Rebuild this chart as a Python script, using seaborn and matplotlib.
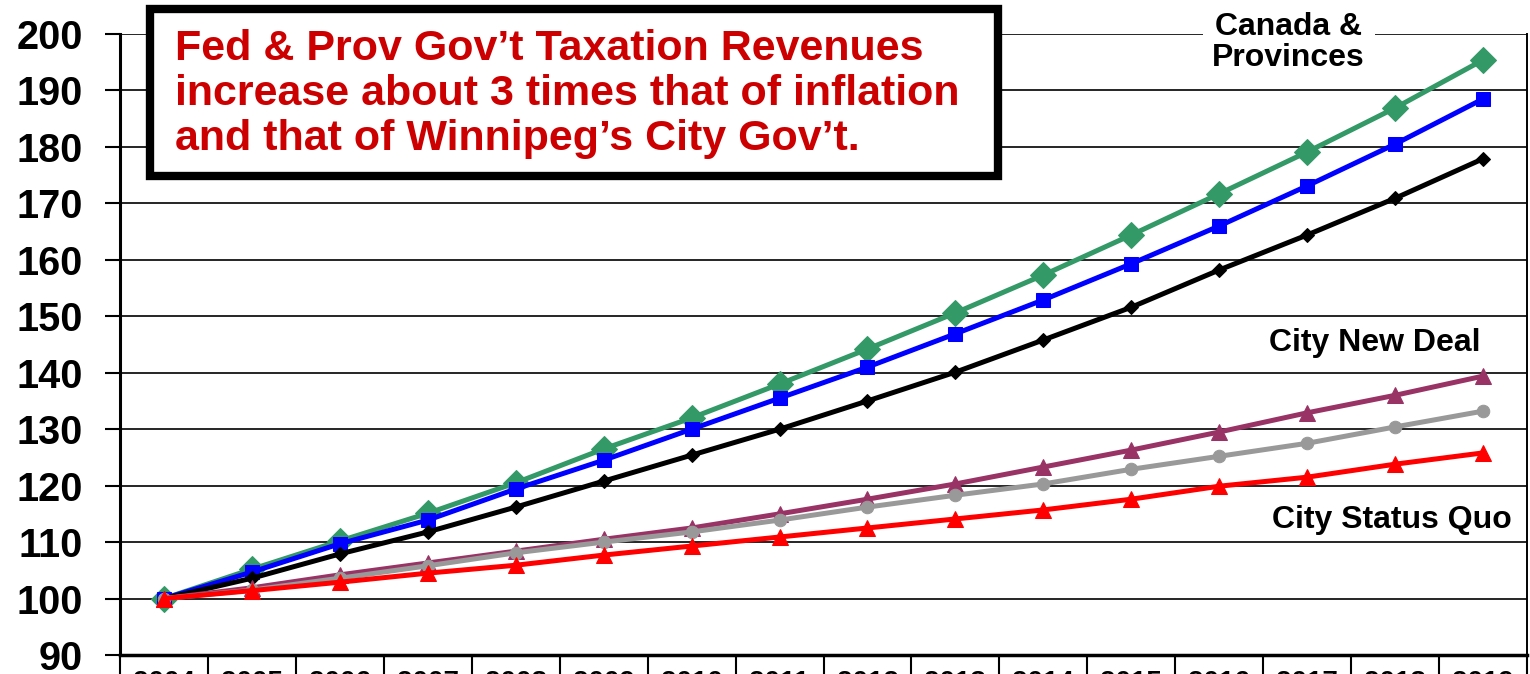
import numpy as np
import pandas as pd
import matplotlib
matplotlib.use("Agg")
import matplotlib.pyplot as plt
from matplotlib.patches import Rectangle
import seaborn as sns

# --- data (index, 2004 = 100) ---
years = [str(y) for y in range(2004, 2020)]
canada_provinces = [100, 105.2, 110.2, 115.1, 120.5, 126.5, 132.0, 138.0,
                    144.2, 150.6, 157.3, 164.4, 171.7, 179.1, 186.9, 195.4]
blue_series = [100, 104.7, 109.7, 113.9, 119.4, 124.5, 130.0, 135.5,
               141.0, 146.9, 152.9, 159.3, 166.0, 173.1, 180.5, 188.5]
black_series = [100, 103.6, 107.9, 111.8, 116.2, 120.8, 125.4, 130.0,
                135.0, 140.1, 145.8, 151.6, 158.2, 164.4, 170.9, 177.9]
city_new_deal = [100, 101.9, 104.2, 106.3, 108.4, 110.5, 112.5, 115.0,
                 117.6, 120.3, 123.3, 126.3, 129.5, 132.9, 136.0, 139.4]
gray_series = [100, 101.5, 103.6, 105.8, 108.1, 110.0, 111.8, 113.9,
               116.2, 118.3, 120.3, 122.9, 125.2, 127.5, 130.4, 133.2]
city_status_quo = [100, 101.4, 102.9, 104.5, 105.9, 107.7, 109.3, 110.9,
                   112.5, 114.1, 115.7, 117.6, 119.9, 121.5, 123.8, 125.8]
y_ticks = list(range(90, 201, 10))

sns.set_style("white")
plt.rcParams["font.family"] = ["Liberation Sans", "DejaVu Sans"]
plt.rcParams["font.weight"] = "bold"
for key in ("text.color", "axes.labelcolor", "xtick.color", "ytick.color"):
    plt.rcParams[key] = "black"

W, H = 1530, 674
fig = plt.figure(figsize=(W / 100, H / 100), dpi=100)
ax = fig.add_axes([120 / W, 1 - 655 / H, 1407 / W, (655 - 34) / H])

x = np.arange(len(years))
styles = [
    (canada_provinces, "#339966", "D", 13),
    (blue_series, "#0000FF", "s", 10),
    (black_series, "#000000", "D", 7),
    (city_new_deal, "#993366", "^", 11.5),
    (gray_series, "#999999", "o", 9),
    (city_status_quo, "#FF0000", "^", 11.5),
]
for vals, col, mk, ms in styles:
    sns.lineplot(x=x, y=vals, ax=ax, color=col, marker=mk, markersize=ms,
                 markeredgecolor=col, linewidth=3.6, zorder=3)

ax.set_xlim(-0.5, len(years) - 0.5)
ax.set_ylim(90, 200)
ax.set_yticks(y_ticks)
ax.set_yticklabels([str(v) for v in y_ticks], fontsize=28.5, fontweight="bold")
ax.tick_params(axis="y", left=True, direction="out", length=11, width=1.5, pad=16, colors="black")

# year labels sit just below the axis and are cut by the figure edge, as in the reference
ax.set_xticks(x)
ax.set_xticklabels(years, fontsize=20, fontweight="bold")
ax.tick_params(axis="x", which="major", length=0, pad=11)
ax.set_xticks(np.arange(-0.5, len(years)), minor=True)
ax.tick_params(axis="x", which="minor", bottom=True, direction="out", length=30,
               width=1.5, color="black")

ax.yaxis.grid(True, color="black", linewidth=1.2)
ax.xaxis.grid(False)
ax.spines["top"].set_visible(False)
for side, lw in (("left", 2.2), ("bottom", 2.5), ("right", 1.4)):
    ax.spines[side].set_color("black")
    ax.spines[side].set_linewidth(lw)
ax.set_xlabel("")
ax.set_ylabel("")

# title box (figure pixel coordinates, measured from the top-left)
px = lambda xp, yp: (xp / W, 1 - yp / H)
fig.patches.append(Rectangle(px(150, 176), (998 - 150) / W, (176 - 9) / H,
                             transform=fig.transFigure, facecolor="white",
                             edgecolor="black", linewidth=6, zorder=5))
fig.text(*px(175, 29),
         "Fed & Prov Gov\u2019t Taxation Revenues\nincrease about 3 times that of inflation\nand that of Winnipeg\u2019s City Gov\u2019t.",
         ha="left", va="top", fontsize=31, fontweight="bold", color="#CC0000",
         linespacing=1.16, zorder=6)

# series labels
ax.text(12.79, 198.5, "Canada &\nProvinces", ha="center", va="center", fontsize=23,
        fontweight="bold", linespacing=1.05, zorder=10,
        bbox=dict(boxstyle="square,pad=0.3", facecolor="white", edgecolor="none"))
ax.text(13.77, 145.3, "City New Deal", ha="center", va="center", fontsize=23,
        fontweight="bold", zorder=10)
ax.text(13.96, 113.9, "City Status Quo", ha="center", va="center", fontsize=23,
        fontweight="bold", zorder=10)

fig.savefig("out.png", dpi=100)
